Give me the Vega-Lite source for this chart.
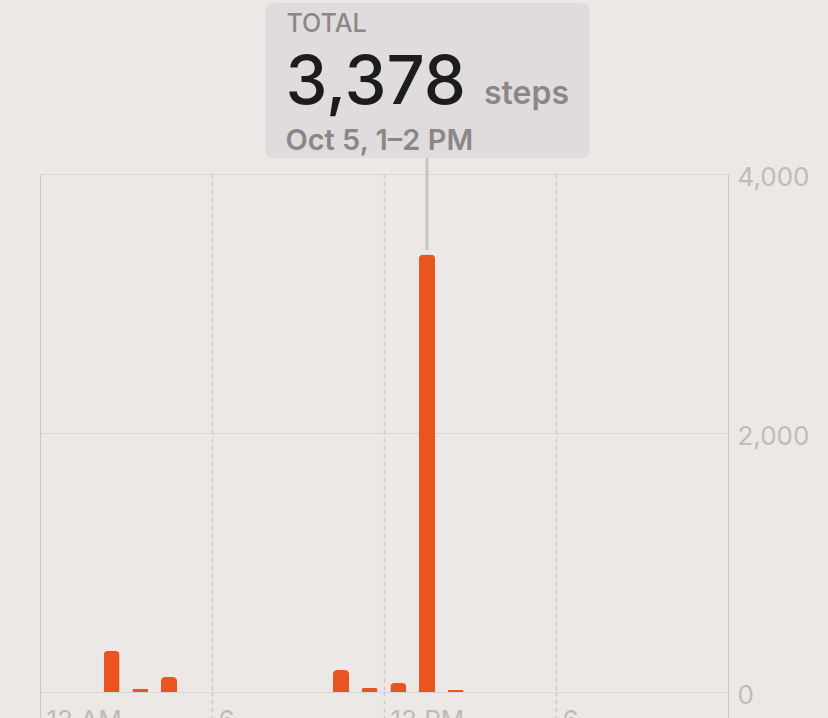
{
  "$schema": "https://vega.github.io/schema/vega-lite/v6.json",
  "width": 688,
  "height": 518,
  "autosize": {"type": "none"},
  "padding": {"left": 40, "top": 174, "right": 100, "bottom": 26},
  "background": "#ebe8e6",
  "config": {"view": {"stroke": null}, "font": "Inter"},
  "datasets": {
    "steps": [
      {"hour": 2, "steps": 317},
      {"hour": 3, "steps": 25},
      {"hour": 4, "steps": 116},
      {"hour": 10, "steps": 170},
      {"hour": 11, "steps": 31},
      {"hour": 12, "steps": 70},
      {"hour": 13, "steps": 3378},
      {"hour": 14, "steps": 15}
    ]
  },
  "layer": [
    {
      "data": {"name": "steps"},
      "mark": {"type": "bar", "width": 16, "xOffset": 14.33, "color": "#ea5420", "cornerRadiusTopLeft": 4, "cornerRadiusTopRight": 4},
      "encoding": {
        "x": {
          "field": "hour", "type": "quantitative",
          "scale": {"domain": [0, 24], "nice": false, "zero": false, "padding": 0},
          "axis": {
            "values": [0, 6, 12, 18, 24],
            "title": null,
            "domain": false,
            "grid": true,
            "gridColor": "#cac6c5",
            "gridWidth": {"condition": {"test": "datum.value == 0 || datum.value == 24", "value": 1}, "value": 1.5},
            "gridDash": {"condition": {"test": "datum.value == 0 || datum.value == 24", "value": []}, "value": [4, 4]},
            "ticks": true,
            "tickSize": 26,
            "tickColor": "#cac6c5",
            "tickWidth": {"condition": {"test": "datum.value == 0 || datum.value == 24", "value": 1}, "value": 1.5},
            "tickDash": {"condition": {"test": "datum.value == 0 || datum.value == 24", "value": []}, "value": [4, 4]},
            "labelExpr": "datum.value == 0 ? '12 AM' : datum.value == 12 ? '12 PM' : datum.value == 24 ? '' : '6'",
            "labelAlign": "left",
            "labelBaseline": "top",
            "labelOffset": 6,
            "labelPadding": -11,
            "labelFontSize": 26,
            "labelColor": "#bfbaba",
            "labelFlush": false,
            "labelOverlap": false
          }
        },
        "y": {
          "field": "steps", "type": "quantitative",
          "scale": {"domain": [0, 4000], "nice": false},
          "axis": {
            "orient": "right",
            "values": [0, 2000, 4000],
            "format": ",.0f",
            "title": null,
            "domain": false,
            "ticks": false,
            "grid": true,
            "gridColor": "#d9d5d4",
            "labelPadding": 9,
            "labelOffset": 3,
            "labelFontSize": 26,
            "labelColor": "#c0bbbb",
            "labelBaseline": "middle",
            "labelFlush": false
          }
        }
      }
    },
    {
      "data": {"values": [{"label": "box"}]},
      "mark": {"type": "rect", "color": "#e0dcdd", "cornerRadius": 8},
      "encoding": {
        "x": {"datum": 7.85, "type": "quantitative"},
        "x2": {"datum": 19.18},
        "y": {"datum": 5320, "type": "quantitative"},
        "y2": {"datum": 4124}
      }
    },
    {
      "data": {"values": [{"label": "line"}]},
      "mark": {"type": "rule", "color": "#c9c4c5", "strokeWidth": 3},
      "encoding": {
        "x": {"datum": 13.5, "type": "quantitative"},
        "y": {"datum": 4124, "type": "quantitative"},
        "y2": {"datum": 3413}
      }
    },
    {
      "data": {"values": [{"label": "TOTAL"}]},
      "mark": {"type": "text", "align": "left", "baseline": "alphabetic", "fontSize": 25, "fontWeight": 500, "color": "#8d8687"},
      "encoding": {
        "x": {"datum": 8.6, "type": "quantitative"},
        "y": {"datum": 5097, "type": "quantitative"},
        "text": {"field": "label"}
      }
    },
    {
      "data": {"values": [{"label": "3,378"}]},
      "mark": {"type": "text", "align": "left", "baseline": "alphabetic", "fontSize": 67, "fontWeight": 500, "color": "#1c1b20"},
      "encoding": {
        "x": {"datum": 8.56, "type": "quantitative"},
        "y": {"datum": 4541, "type": "quantitative"},
        "text": {"field": "label"}
      }
    },
    {
      "data": {"values": [{"label": "steps"}]},
      "mark": {"type": "text", "align": "left", "baseline": "alphabetic", "fontSize": 32, "fontWeight": 600, "color": "#8d8687"},
      "encoding": {
        "x": {"datum": 15.49, "type": "quantitative"},
        "y": {"datum": 4541, "type": "quantitative"},
        "text": {"field": "label"}
      }
    },
    {
      "data": {"values": [{"label": "Oct 5, 1–2 PM"}]},
      "mark": {"type": "text", "align": "left", "baseline": "alphabetic", "fontSize": 29, "fontWeight": 600, "color": "#8d8687"},
      "encoding": {
        "x": {"datum": 8.56, "type": "quantitative"},
        "y": {"datum": 4185, "type": "quantitative"},
        "text": {"field": "label"}
      }
    }
  ]
}
